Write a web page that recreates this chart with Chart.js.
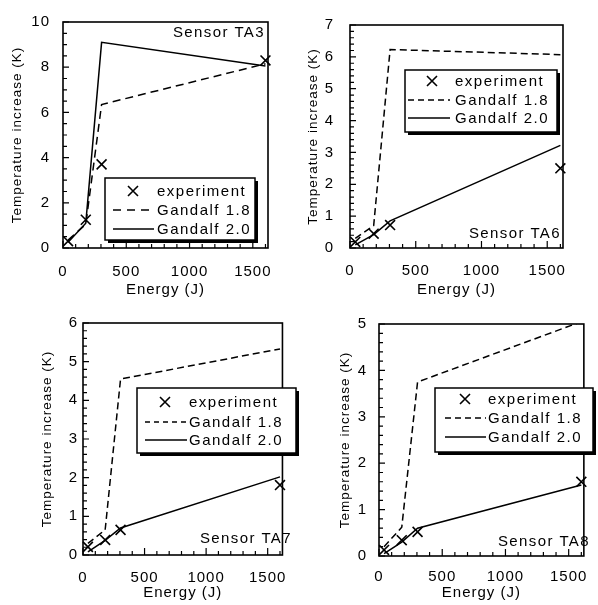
<!DOCTYPE html>
<html><head><meta charset="utf-8">
<script src="https://cdn.jsdelivr.net/npm/chart.js@4.4.0/dist/chart.umd.min.js"></script>
<style>
html,body{margin:0;padding:0;background:#fff;}
#wrap{position:relative;width:598px;height:605px;overflow:hidden;background:#fff;}
canvas{position:absolute;}
</style></head><body>
<div id="wrap">
<canvas id="c1" width="299" height="300" style="left:0;top:0"></canvas>
<canvas id="c2" width="299" height="300" style="left:299px;top:0"></canvas>
<canvas id="c3" width="299" height="305" style="left:0;top:300px"></canvas>
<canvas id="c4" width="299" height="305" style="left:299px;top:300px"></canvas>
</div>
<script>
// ---- data ----
const energy = [40, 180, 305, 1600];
const xTicks = [0, 500, 1000, 1500];
const seriesNames = ['experiment', 'Gandalf 1.8', 'Gandalf 2.0'];
const sensorNames = ['Sensor TA3', 'Sensor TA6', 'Sensor TA7', 'Sensor TA8'];

const ta3Experiment = [0.3, 1.25, 3.7, 8.3];
const ta3Gandalf18  = [0.35, 1.05, 6.35, 8.15];
const ta3Gandalf20  = [0.25, 1.1, 9.1, 8.05];

const ta6Experiment = [0.19, 0.45, 0.72, 2.5];
const ta6Gandalf18  = [0.3, 0.7, 6.23, 6.07];
const ta6Gandalf20  = [0.1, 0.42, 0.85, 3.22];

const ta7Experiment = [0.21, 0.39, 0.65, 1.81];
const ta7Gandalf18  = [0.3, 0.65, 4.55, 5.33];
const ta7Gandalf20  = [0.08, 0.38, 0.7, 2.02];

const ta8Experiment = [0.13, 0.34, 0.52, 1.6];
const ta8Gandalf18  = [0.2, 0.62, 3.75, 5.05];
const ta8Gandalf20  = [0.05, 0.3, 0.6, 1.53];

const ta3YTicks = [0, 2, 4, 6, 8, 10];
const ta6YTicks = [0, 1, 2, 3, 4, 5, 6, 7];
const ta7YTicks = [0, 1, 2, 3, 4, 5, 6];
const ta8YTicks = [0, 1, 2, 3, 4, 5];

// ---- layout / style ----
const FONT = '"Liberation Sans", Arial, Helvetica, sans-serif';
Chart.defaults.font.family = FONT;
Chart.defaults.color = '#000';

const panels = [
  {id:'c1', exp:ta3Experiment, g18:ta3Gandalf18, g20:ta3Gandalf20, yTicks:ta3YTicks, minor:4, sensor:sensorNames[0],
   pad:{left:0, top:18, right:31, bottom:0}, yW:63, xH:52, yTitlePad:9, yTickPad:13, xTickPad:15, xTitlePad:1, dash:[8,5],
   leg:{x:105, y:178, w:150, h:62, rows:[191,210,229], mark:133, l0:113, l1:154, tx:157, dash:[8,6]},
   sen:{x:265, y:33}},
  {id:'c2', exp:ta6Experiment, g18:ta6Gandalf18, g20:ta6Gandalf20, yTicks:ta6YTicks, minor:5, sensor:sensorNames[1],
   pad:{left:0, top:20, right:35, bottom:0}, yW:51, xH:52, yTitlePad:6, yTickPad:16, xTickPad:14, xTitlePad:1, dash:[7,4],
   leg:{x:106, y:70, w:152, h:62, rows:[81,100,118], mark:133, l0:109, l1:151, tx:156, dash:[6,4]},
   sen:{x:262, y:234}},
  {id:'c3', exp:ta7Experiment, g18:ta7Gandalf18, g20:ta7Gandalf20, yTicks:ta7YTicks, minor:5, sensor:sensorNames[2],
   pad:{left:0, top:23, right:3, bottom:0}, yW:83, xH:50, yTitlePad:39, yTickPad:5, xTickPad:14, xTitlePad:3, dash:[7,4],
   leg:{x:137, y:88, w:159, h:65, rows:[102,122,140], mark:165, l0:145, l1:187, tx:189, dash:[5,4]},
   sen:{x:292, y:239}},
  {id:'c4', exp:ta8Experiment, g18:ta8Gandalf18, g20:ta8Gandalf20, yTicks:ta8YTicks, minor:5, sensor:sensorNames[3],
   pad:{left:0, top:24, right:5, bottom:0}, yW:80, xH:49, yTitlePad:38, yTickPad:12, xTickPad:12, xTitlePad:3, dash:[7,4],
   leg:{x:136, y:88, w:158, h:64, rows:[99,118,137], mark:166, l0:146, l1:187, tx:189, dash:[6,4]},
   sen:{x:291, y:242}}
];

function drawX(ctx, cx, cy, r) {
  ctx.beginPath();
  ctx.moveTo(cx - r, cy - r); ctx.lineTo(cx + r, cy + r);
  ctx.moveTo(cx + r, cy - r); ctx.lineTo(cx - r, cy + r);
  ctx.stroke();
}

const decoPlugin = {
  id: 'deco',
  beforeDraw(chart) { chart.ctx.letterSpacing = '1px'; },
  afterDraw(chart, args, opts) {
    const P = opts.panel;
    const ctx = chart.ctx;
    const a = chart.chartArea;
    const xs = chart.scales.x, ys = chart.scales.y;
    ctx.save();
    ctx.strokeStyle = '#000';
    ctx.fillStyle = '#000';
    // plot frame
    ctx.lineWidth = 1.6;
    ctx.setLineDash([]);
    ctx.strokeRect(a.left, a.top, a.right - a.left, a.bottom - a.top);
    // inward ticks, y
    ctx.lineWidth = 1.2;
    const yt = P.yTicks;
    const step = (yt[1] - yt[0]) / P.minor;
    ctx.beginPath();
    for (let i = 0; i <= (yt[yt.length-1] - yt[0]) / step + 1e-6; i++) {
      const v = yt[0] + i * step;
      const py = ys.getPixelForValue(v);
      const len = (i % P.minor === 0) ? 6 : 4;
      ctx.moveTo(a.left, py); ctx.lineTo(a.left + len, py);
    }
    // inward ticks, x
    for (let v = 0; v <= 1600; v += 100) {
      const px = xs.getPixelForValue(v);
      const len = (v % 500 === 0) ? 7 : 4;
      ctx.moveTo(px, a.bottom); ctx.lineTo(px, a.bottom - len);
    }
    ctx.stroke();

    // legend box
    const L = P.leg;
    ctx.fillStyle = '#000';
    ctx.fillRect(L.x + 3, L.y + 3, L.w, L.h);
    ctx.fillStyle = '#fff';
    ctx.fillRect(L.x, L.y, L.w, L.h);
    ctx.lineWidth = 1.5;
    ctx.strokeRect(L.x, L.y, L.w, L.h);
    // legend symbols
    ctx.lineWidth = 1.6;
    drawX(ctx, L.mark, L.rows[0], 5);
    ctx.lineWidth = 1.5;
    ctx.setLineDash(L.dash);
    ctx.beginPath(); ctx.moveTo(L.l0, L.rows[1]); ctx.lineTo(L.l1, L.rows[1]); ctx.stroke();
    ctx.setLineDash([]);
    ctx.beginPath(); ctx.moveTo(L.l0, L.rows[2]); ctx.lineTo(L.l1, L.rows[2]); ctx.stroke();
    // legend text
    ctx.fillStyle = '#000';
    ctx.font = '15px ' + FONT;
    ctx.letterSpacing = '1.5px';
    ctx.textBaseline = 'middle';
    ctx.textAlign = 'left';
    chart.data.datasets.forEach((ds, i) => ctx.fillText(ds.label, L.tx, L.rows[i] + 1));
    // sensor label
    ctx.letterSpacing = '1.4px';
    ctx.textAlign = 'right';
    ctx.fillText(P.sensor, P.sen.x, P.sen.y);
    ctx.restore();
  }
};

panels.forEach(P => {
  const pts = arr => energy.map((e, i) => ({x: e, y: arr[i]}));
  new Chart(document.getElementById(P.id), {
    type: 'scatter',
    data: {
      datasets: [
        {label: seriesNames[0], data: pts(P.exp), showLine: false, pointStyle: 'crossRot',
         pointRadius: 7, pointBorderWidth: 1.6, borderColor: '#000', backgroundColor: '#000', clip: false},
        {label: seriesNames[1], data: pts(P.g18), showLine: true, borderDash: P.dash, borderWidth: 1.5,
         borderColor: '#000', pointRadius: 0, fill: false, tension: 0},
        {label: seriesNames[2], data: pts(P.g20), showLine: true, borderWidth: 1.5,
         borderColor: '#000', pointRadius: 0, fill: false, tension: 0}
      ]
    },
    options: {
      responsive: false,
      animation: false,
      devicePixelRatio: 1,
      layout: {padding: P.pad},
      plugins: {
        legend: {display: false},
        tooltip: {enabled: false},
        deco: {panel: P}
      },
      scales: {
        x: {
          type: 'linear', min: 0, max: 1620,
          afterBuildTicks: s => { s.ticks = xTicks.map(v => ({value: v})); },
          afterFit: s => { s.height = P.xH; },
          grid: {display: false, drawTicks: false},
          border: {display: false},
          ticks: {padding: P.xTickPad, font: {size: 15}, color: '#000', maxRotation: 0, autoSkip: false,
                  callback: v => String(v)},
          title: {display: true, text: 'Energy (J)', font: {size: 15}, color: '#000', padding: {top: 0, bottom: P.xTitlePad}}
        },
        y: {
          type: 'linear', min: P.yTicks[0], max: P.yTicks[P.yTicks.length - 1],
          afterBuildTicks: s => { s.ticks = P.yTicks.map(v => ({value: v})); },
          afterFit: s => { s.width = P.yW; },
          grid: {display: false, drawTicks: false},
          border: {display: false},
          ticks: {padding: P.yTickPad, font: {size: 15}, color: '#000', autoSkip: false,
                  callback: v => String(v)},
          title: {display: true, text: 'Temperature increase (K)', font: {size: 13.5}, color: '#000', padding: {top: P.yTitlePad, bottom: 0}}
        }
      }
    },
    plugins: [decoPlugin]
  });
});
</script>
</body></html>
